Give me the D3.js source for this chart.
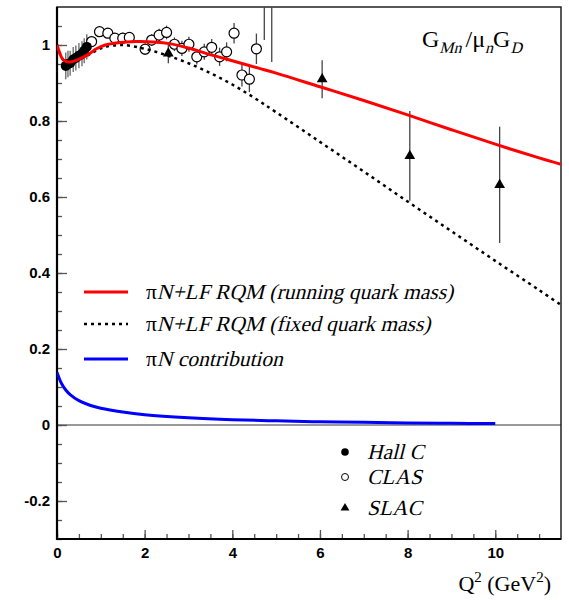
<!DOCTYPE html>
<html lang="en">
  <head>
    <meta http-equiv="Content-Type" content="text/html; charset=utf-8"/>
    <style>
body {
  margin: 0;
  background: #fff;
}
.tick text {
  font-family: "Liberation Sans", Arial, sans-serif;
  font-weight: bold;
  font-size: 15px;
  fill: #000;
}
.tick line {
  stroke: #555;
  stroke-width: 1.3;
}
.serif {
  font-family: "Liberation Serif", "Times New Roman", serif;
  fill: #000;
}
    </style>
  </head>
  <body>
    <svg id="chart" width="569" height="600"></svg>
    <script src="https://d3js.org/d3.v7.min.js"></script>
    <script>

// curves
const runQ2 = [0, 0.05, 0.1, 0.15, 0.2, 0.3, 0.45, 0.6, 0.75, 0.9, 1.1, 1.4, 1.8, 2.2, 2.6, 3.0, 3.4, 3.8, 4.2, 4.6, 5, 6, 7, 8, 9, 10, 11, 11.5];
const runG  = [1.0, 0.983, 0.968, 0.96, 0.957, 0.955, 0.96, 0.968, 0.978, 0.99, 1.0, 1.006, 1.009, 1.008, 1.003, 0.992, 0.978, 0.965, 0.952, 0.939, 0.926, 0.89, 0.854, 0.816, 0.777, 0.739, 0.703, 0.686];

const fixQ2 = [0, 0.05, 0.1, 0.15, 0.2, 0.3, 0.45, 0.6, 0.75, 0.9, 1.1, 1.5, 2.0, 2.5, 3.0, 3.5, 4.0, 4.5, 5, 6, 7, 8, 9, 10, 11, 11.5];
const fixG  = [1.0, 0.983, 0.968, 0.96, 0.957, 0.955, 0.96, 0.967, 0.976, 0.986, 0.995, 1.0, 0.99, 0.973, 0.952, 0.926, 0.896, 0.861, 0.823, 0.745, 0.667, 0.588, 0.51, 0.432, 0.355, 0.316];

const pinQ2 = [0, 0.05, 0.1, 0.2, 0.3, 0.5, 0.75, 1, 1.5, 2, 3, 4, 5, 6, 7, 8, 9, 10];
const pinG  = [0.138, 0.123, 0.11, 0.092, 0.08, 0.064, 0.052, 0.044, 0.034, 0.027, 0.019, 0.014, 0.011, 0.0085, 0.007, 0.0055, 0.0045, 0.004];

// data
const hallQ2  = [0.2, 0.25, 0.3, 0.37, 0.43, 0.5, 0.57, 0.62, 0.68];
const hallG   = [0.945, 0.95, 0.952, 0.962, 0.966, 0.972, 0.977, 0.985, 0.995];
const hallErr = [0.035, 0.035, 0.033, 0.033, 0.033, 0.033, 0.033, 0.033, 0.033];

const clasQ2  = [0.79, 0.97, 1.16, 1.32, 1.50, 1.65, 2.01, 2.16, 2.33, 2.50, 2.68, 2.85, 3.01, 3.19, 3.36, 3.53, 3.71, 3.87, 4.04, 4.22, 4.39, 4.55, 4.73, 4.90];
const clasG   = [1.009, 1.035, 1.031, 1.018, 1.018, 1.02, 0.989, 1.013, 1.026, 1.033, 1.002, 0.991, 1.002, 0.969, 0.982, 0.994, 0.969, 0.982, 1.031, 0.921, 0.91, 0.99, 1.25, 1.30];
const clasErr = [0.012, 0.012, 0.012, 0.012, 0.014, 0.014, 0.015, 0.015, 0.017, 0.018, 0.018, 0.02, 0.02, 0.02, 0.021, 0.022, 0.024, 0.025, 0.027, 0.03, 0.034, 0.04, 0.237, 0.345];

const slacQ2  = [2.54, 6.05, 8.05, 10.1];
const slacG   = [0.978, 0.91, 0.708, 0.632];
const slacErr = [0.026, 0.05, 0.118, 0.153];

const xMajor = [0, 2, 4, 6, 8, 10];
const yMajor = [-0.2, 0, 0.2, 0.4, 0.6, 0.8, 1];

const legendCurves = [
  {name: "N+LF RQM (running quark mass)", color: "#ff0000", dash: null},
  {name: "N+LF RQM (fixed quark mass)", color: "#000", dash: "3,4"},
  {name: "N contribution", color: "#0000ff", dash: null}
];
const legendData = ["Hall C", "CLAS", "SLAC"];

var svg = d3.select('#chart');
var mLeft = 57, mRight = 561, mTop = 7, mBottom = 539;

var x = d3.scaleLinear().domain([0, 11.5]).range([mLeft, mRight]);
var y = d3.scaleLinear().domain([-0.3, 1.1]).range([mBottom, mTop]);

// the italic face of Liberation Serif is not there, so slant the upright one
// parts are drawn one after another: {t, size, it, dy}
function richText(x0, y0, parts) {
  var cx = x0;
  parts.forEach(function(p) {
    var py = y0 + (p.dy || 0);
    var el = svg.append('text').attr('class', 'serif')
      .style('font-size', p.size + 'px')
      .attr('transform', 'translate(' + cx + ',' + py + ')' + (p.it ? ' skewX(-14)' : ''))
      .text(p.t);
    cx += el.node().getComputedTextLength() + (p.gap || 0);
  });
}

svg.append('clipPath').attr('id', 'clip')
  .append('rect')
  .attr('x', mLeft).attr('y', mTop)
  .attr('width', mRight - mLeft).attr('height', mBottom - mTop);

// zero line
svg.append('line')
  .attr('x1', mLeft).attr('x2', mRight)
  .attr('y1', y(0)).attr('y2', y(0))
  .attr('stroke', '#777').attr('stroke-width', 1.5);

// minor ticks
svg.append('g')
  .attr('transform', 'translate(' + mLeft + ',0)')
  .call(d3.axisLeft(y).tickValues(d3.range(-0.3, 1.1, 0.05).map(v => +v.toFixed(2)))
    .tickSize(-5).tickFormat(''))
  .call(g => g.select('.domain').remove());
svg.append('g')
  .attr('transform', 'translate(0,' + mBottom + ')')
  .call(d3.axisBottom(x).tickValues(d3.range(0, 11.5, 0.5)).tickSize(-5).tickFormat(''))
  .call(g => g.select('.domain').remove());

// major ticks, labels with a plain hyphen like the original
svg.append('g')
  .attr('transform', 'translate(' + mLeft + ',0)')
  .call(d3.axisLeft(y).tickValues(yMajor).tickSize(-10).tickPadding(7)
    .tickFormat(d => String(+d.toFixed(1))))
  .call(g => g.select('.domain').remove());
svg.append('g')
  .attr('transform', 'translate(0,' + mBottom + ')')
  .call(d3.axisBottom(x).tickValues(xMajor).tickSize(-9).tickPadding(8))
  .call(g => g.select('.domain').remove());

// frame
svg.append('rect')
  .attr('x', mLeft).attr('y', mTop)
  .attr('width', mRight - mLeft).attr('height', mBottom - mTop)
  .attr('fill', 'none').attr('stroke', '#222').attr('stroke-width', 1.5);
svg.append('path')
  .attr('d', 'M' + mLeft + ',' + mTop + 'V' + mBottom + 'H' + mRight)
  .attr('fill', 'none').attr('stroke', '#000').attr('stroke-width', 2.2);

var plot = svg.append('g').attr('clip-path', 'url(#clip)');

function errorBars(q2, g, err, color) {
  plot.append('g').selectAll('line')
    .data(q2)
    .enter().append('line')
    .attr('x1', d => x(d)).attr('x2', d => x(d))
    .attr('y1', (d, i) => y(g[i] - err[i]))
    .attr('y2', (d, i) => y(g[i] + err[i]))
    .attr('stroke', color).attr('stroke-width', 1.3);
}

errorBars(clasQ2, clasG, clasErr, '#444');
errorBars(hallQ2, hallG, hallErr, '#666');
errorBars(slacQ2, slacG, slacErr, '#444');

plot.append('g').selectAll('circle')
  .data(clasQ2)
  .enter().append('circle')
  .attr('cx', d => x(d))
  .attr('cy', (d, i) => y(clasG[i]))
  .attr('r', 5)
  .attr('fill', '#fff').attr('stroke', '#000').attr('stroke-width', 1.2);

plot.append('g').selectAll('circle')
  .data(hallQ2)
  .enter().append('circle')
  .attr('cx', d => x(d))
  .attr('cy', (d, i) => y(hallG[i]))
  .attr('r', 5)
  .attr('fill', '#000');

var tri = d3.symbol().type(d3.symbolTriangle).size(50);
plot.append('g').selectAll('path')
  .data(slacQ2)
  .enter().append('path')
  .attr('d', tri)
  .attr('transform', (d, i) => 'translate(' + x(d) + ',' + y(slacG[i]) + ')')
  .attr('fill', '#000');

// curves
var line = d3.line().x(d => x(d[0])).y(d => y(d[1])).curve(d3.curveCatmullRom.alpha(0.5));

plot.append('path')
  .datum(pinQ2.map((d, i) => [d, pinG[i]]))
  .attr('d', line)
  .attr('fill', 'none').attr('stroke', '#0000ff').attr('stroke-width', 3);

plot.append('path')
  .datum(fixQ2.map((d, i) => [d, fixG[i]]))
  .attr('d', line)
  .attr('fill', 'none').attr('stroke', '#000').attr('stroke-width', 2.5)
  .attr('stroke-dasharray', '3,4');

plot.append('path')
  .datum(runQ2.map((d, i) => [d, runG[i]]))
  .attr('d', line)
  .attr('fill', 'none').attr('stroke', '#ff0000').attr('stroke-width', 3);

// title
richText(422, 47, [
  {t: 'G', size: 24},
  {t: 'Mn', size: 16, it: true, dy: 6, gap: 4},
  {t: '/\u03bc', size: 24},
  {t: 'n', size: 16, it: true, dy: 6},
  {t: 'G', size: 24},
  {t: 'D', size: 16, it: true, dy: 6}
]);

// curve legend
var legendY = [292, 324, 359];
legendCurves.forEach(function(c, i) {
  svg.append('line')
    .attr('x1', 84).attr('x2', 128)
    .attr('y1', legendY[i]).attr('y2', legendY[i])
    .attr('stroke', c.color).attr('stroke-width', c.dash ? 2.5 : 3)
    .attr('stroke-dasharray', c.dash);
  richText(146, legendY[i] + 7, [
    {t: '\u03c0', size: 21.5},
    {t: c.name, size: 21.5, it: true}
  ]);
});

// data legend
var dataY = [452, 477, 508];
svg.append('circle').attr('cx', 345).attr('cy', dataY[0]).attr('r', 3.8).attr('fill', '#000');
svg.append('circle').attr('cx', 345).attr('cy', dataY[1]).attr('r', 3.5)
  .attr('fill', '#fff').attr('stroke', '#000').attr('stroke-width', 1);
svg.append('path').attr('d', d3.symbol().type(d3.symbolTriangle).size(34))
  .attr('transform', 'translate(345,' + dataY[2] + ')').attr('fill', '#000');
legendData.forEach(function(name, i) {
  richText(367, dataY[i] + 7, [{t: name, size: 21.5, it: true}]);
});

// x axis title
var xt = svg.append('text').attr('class', 'serif')
  .attr('x', 551).attr('y', 591).attr('text-anchor', 'end').style('font-size', '22px');
xt.append('tspan').text('Q');
xt.append('tspan').attr('dy', -9).style('font-size', '15px').text('2');
xt.append('tspan').attr('dy', 9).text(' (GeV');
xt.append('tspan').attr('dy', -9).style('font-size', '15px').text('2');
xt.append('tspan').attr('dy', 9).text(')');

    </script>
  </body>
</html>
